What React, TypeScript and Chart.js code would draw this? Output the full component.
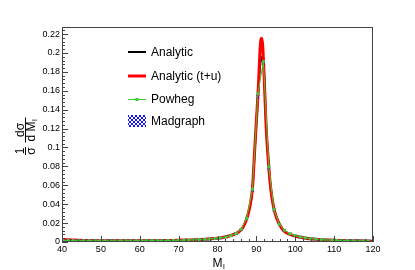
import { useEffect, useRef } from "react";
import { Chart, registerables } from "chart.js";

Chart.register(...registerables);

const FONT = "'Liberation Sans', Arial, Helvetica, sans-serif";

// Analytic curves (x in GeV, y = 1/sigma dsigma/dM)
const curveX = [40, 44, 48, 52, 56, 60, 64, 68, 72, 76, 79, 81, 83, 84.5, 85.5, 86.5, 87.5, 88.3, 89.0, 89.6, 90.0, 90.5, 90.9, 91.15, 91.35, 91.6, 92.0, 92.5, 93.0, 93.5, 94.0, 94.5, 95.2, 95.9, 96.8, 98, 99.5, 101, 103, 106, 110, 115, 120];
const analyticY = [0.0024, 0.0018, 0.0014, 0.0012, 0.0012, 0.0013, 0.0014, 0.0016, 0.002, 0.0027, 0.0036, 0.0046, 0.0063, 0.0085, 0.0108, 0.015, 0.0245, 0.037, 0.056, 0.098, 0.126, 0.158, 0.184, 0.193, 0.1955, 0.193, 0.177, 0.125, 0.091, 0.065, 0.048, 0.036, 0.026, 0.0192, 0.0132, 0.0093, 0.0069, 0.0053, 0.0039, 0.0027, 0.0018, 0.0012, 0.0009];
const analyticTUY = [0.0025, 0.0018, 0.0014, 0.0012, 0.0012, 0.0013, 0.0014, 0.0016, 0.002, 0.0027, 0.0036, 0.0046, 0.0063, 0.0085, 0.0108, 0.015, 0.0245, 0.037, 0.057, 0.1, 0.128, 0.163, 0.2, 0.2135, 0.2155, 0.209, 0.175, 0.123, 0.09, 0.064, 0.047, 0.0355, 0.0255, 0.019, 0.013, 0.0092, 0.0068, 0.0052, 0.0038, 0.0027, 0.0018, 0.0012, 0.0009];

// Generator histograms (bin centres)
const binX = [40.2, 41.6, 42.9, 44.3, 45.6, 47.0, 48.3, 49.7, 51.0, 52.4, 53.7, 55.1, 56.4, 57.8, 59.1, 60.5, 61.8, 63.2, 64.5, 65.9, 67.2, 68.6, 69.9, 71.3, 72.6, 74.0, 75.3, 76.7, 78.0, 79.4, 80.7, 82.1, 83.4, 84.8, 86.1, 87.5, 89.0, 90.4, 91.8, 93.2, 94.5, 95.9, 97.2, 98.6, 99.9, 101.3, 102.6, 104.0, 105.3, 106.7, 108.0, 109.4, 110.7, 112.1, 113.4, 114.8, 116.1, 117.5, 118.8];
const powhegY = [0.0016, 0.0016, 0.0015, 0.0015, 0.0014, 0.0014, 0.0014, 0.0013, 0.0013, 0.0013, 0.0013, 0.0013, 0.0013, 0.0013, 0.0014, 0.0014, 0.0014, 0.0015, 0.0015, 0.0016, 0.0016, 0.0017, 0.0018, 0.0019, 0.0021, 0.0023, 0.0025, 0.0028, 0.0032, 0.0037, 0.0043, 0.0053, 0.0067, 0.009, 0.0134, 0.025, 0.056, 0.157, 0.191, 0.0797, 0.0346, 0.0187, 0.0125, 0.0088, 0.0068, 0.0053, 0.0043, 0.0036, 0.003, 0.0026, 0.0022, 0.002, 0.0018, 0.0016, 0.0015, 0.0014, 0.0013, 0.0012, 0.0011];
const madgraphY = [0.0015, 0.0015, 0.0015, 0.0014, 0.0014, 0.0014, 0.0013, 0.0013, 0.0013, 0.0013, 0.0012, 0.0013, 0.0013, 0.0013, 0.0013, 0.0014, 0.0014, 0.0014, 0.0015, 0.0015, 0.0016, 0.0017, 0.0018, 0.0019, 0.002, 0.0022, 0.0025, 0.0028, 0.0031, 0.0036, 0.0042, 0.0052, 0.0066, 0.0088, 0.0131, 0.0246, 0.0545, 0.1535, 0.1895, 0.0785, 0.034, 0.0183, 0.0123, 0.0087, 0.0067, 0.0052, 0.0042, 0.0035, 0.003, 0.0025, 0.0022, 0.0019, 0.0017, 0.0016, 0.0015, 0.0014, 0.0013, 0.0012, 0.0011];

const seriesNames = ["Analytic", "Analytic (t+u)", "Powheg", "Madgraph"];
const xTickValues = [40, 50, 60, 70, 80, 90, 100, 110, 120];
const yTickValues = [0, 0.02, 0.04, 0.06, 0.08, 0.1, 0.12, 0.14, 0.16, 0.18, 0.2, 0.22];
const xTitle = "M";
const xTitleSub = "l";

const X_MIN = 40;
const X_MAX = 120;
const Y_MIN = 0;
const Y_MAX = 0.2275;

const GREEN = "#3fcc33";
const BLUE = "#1010ff";

function toXY(xs: number[], ys: number[]) {
  return xs.map((x, i) => ({ x, y: ys[i] }));
}

function makeHatch(ctx: CanvasRenderingContext2D) {
  const c = document.createElement("canvas");
  c.width = 4;
  c.height = 4;
  const p = c.getContext("2d")!;
  p.fillStyle = "#ffffff";
  p.fillRect(0, 0, 4, 4);
  p.fillStyle = BLUE;
  const px = [
    [0, 0], [1, 1], [2, 2], [3, 3],
    [3, 0], [2, 1], [1, 2], [0, 3],
  ];
  px.forEach(([a, b]) => p.fillRect(a, b, 1, 1));
  return ctx.createPattern(c, "repeat");
}

const rootPlugin = {
  id: "rootDecor",
  afterDraw(chart: any) {
    const ctx: CanvasRenderingContext2D = chart.ctx;
    const { left, right, top, bottom } = chart.chartArea;
    const xs = chart.scales.x;
    const ys = chart.scales.y;
    ctx.save();
    // frame
    ctx.strokeStyle = "#444";
    ctx.lineWidth = 1;
    ctx.strokeRect(left + 0.5, top + 0.5, right - left - 1, bottom - top - 1);
    // ticks
    ctx.beginPath();
    for (let k = 0; k <= 40; k++) {
      const v = X_MIN + k * 2;
      const px = Math.round(xs.getPixelForValue(v)) + 0.5;
      const len = k % 5 === 0 ? 6 : 3;
      ctx.moveTo(px, bottom);
      ctx.lineTo(px, bottom - len);
    }
    for (let k = 0; k <= 56; k++) {
      const v = k * 0.004;
      if (v > Y_MAX) break;
      const py = Math.round(ys.getPixelForValue(v)) + 0.5;
      const len = k % 5 === 0 ? 6 : 3;
      ctx.moveTo(left, py);
      ctx.lineTo(left + len, py);
    }
    ctx.stroke();

    // legend
    const lx0 = 128;
    const lx1 = 146;
    const tx = 151;
    const rows = [52, 76, 99, 121];
    ctx.font = `12px ${FONT}`;
    ctx.textBaseline = "middle";
    ctx.textAlign = "left";
    ctx.fillStyle = "#000";
    // Analytic
    ctx.strokeStyle = "#000";
    ctx.lineWidth = 2;
    ctx.beginPath();
    ctx.moveTo(lx0, rows[0]);
    ctx.lineTo(lx1, rows[0]);
    ctx.stroke();
    // Analytic (t+u)
    ctx.strokeStyle = "#ff0000";
    ctx.lineWidth = 3;
    ctx.beginPath();
    ctx.moveTo(lx0, rows[1]);
    ctx.lineTo(lx1, rows[1]);
    ctx.stroke();
    // Powheg
    ctx.strokeStyle = GREEN;
    ctx.lineWidth = 1;
    ctx.beginPath();
    ctx.moveTo(lx0, rows[2] + 0.5);
    ctx.lineTo(lx1, rows[2] + 0.5);
    ctx.stroke();
    ctx.fillStyle = GREEN;
    ctx.fillRect((lx0 + lx1) / 2 - 1.5, rows[2] - 1, 3, 3);
    // Madgraph
    const pat = makeHatch(ctx);
    if (pat) ctx.fillStyle = pat;
    ctx.fillRect(lx0, rows[3] - 6, lx1 - lx0, 12);
    ctx.fillStyle = "#000";
    seriesNames.forEach((n, i) => ctx.fillText(n, tx, rows[i] + 1));

    // x title
    ctx.font = `12px ${FONT}`;
    ctx.textBaseline = "alphabetic";
    const mW = ctx.measureText(xTitle).width;
    const xc = (left + right) / 2;
    ctx.fillText(xTitle, xc - mW / 2, 267);
    ctx.font = `8px ${FONT}`;
    ctx.fillText(xTitleSub, xc + mW / 2 + 0.5, 269);

    // y title: (1/sigma) (dsigma / d M_l), rotated
    ctx.translate(26, 139);
    ctx.rotate(-Math.PI / 2);
    ctx.font = `12px ${FONT}`;
    ctx.textAlign = "center";
    ctx.textBaseline = "alphabetic";
    ctx.strokeStyle = "#000";
    ctx.lineWidth = 1;
    // fraction 1
    const f1 = -12;
    ctx.fillText("1", f1, -2);
    ctx.fillText("σ", f1, 9);
    ctx.beginPath();
    ctx.moveTo(f1 - 4, -0.5);
    ctx.lineTo(f1 + 4, -0.5);
    ctx.stroke();
    // fraction 2
    const f2 = 9;
    ctx.fillText("dσ", f2, -2);
    ctx.textAlign = "left";
    const dW = ctx.measureText("d M").width;
    const start = f2 - (dW + 3) / 2;
    ctx.fillText("d M", start, 9);
    ctx.font = `8px ${FONT}`;
    ctx.fillText("l", start + dW + 0.5, 11);
    ctx.beginPath();
    ctx.moveTo(start - 1, -0.5);
    ctx.lineTo(start + dW + 4, -0.5);
    ctx.stroke();
    ctx.restore();
  },
};

export default function App() {
  const ref = useRef<HTMLCanvasElement | null>(null);
  useEffect(() => {
    if (!ref.current) return;
    const chart = new Chart(ref.current, {
      type: "line",
      data: {
        datasets: [
          {
            label: seriesNames[2],
            data: toXY(binX, powhegY),
            borderColor: GREEN,
            backgroundColor: GREEN,
            borderWidth: 1,
            pointStyle: "rect",
            pointRadius: 2,
            pointBorderWidth: 0,
            tension: 0,
            order: 0,
          },
          {
            label: seriesNames[3],
            data: toXY(binX, madgraphY),
            showLine: false,
            borderColor: BLUE,
            backgroundColor: BLUE,
            pointStyle: "crossRot",
            pointRadius: 2,
            pointBorderWidth: 1,
            order: 1,
          },
          {
            label: seriesNames[1],
            data: toXY(curveX, analyticTUY),
            borderColor: "#ff0000",
            borderWidth: 3,
            pointRadius: 0,
            cubicInterpolationMode: "monotone",
            order: 2,
          },
          {
            label: seriesNames[0],
            data: toXY(curveX, analyticY),
            borderColor: "#000000",
            borderWidth: 2,
            pointRadius: 0,
            cubicInterpolationMode: "monotone",
            order: 3,
          },
        ],
      },
      options: {
        responsive: false,
        animation: false,
        devicePixelRatio: 1,
        layout: { padding: { top: 27, right: 42, left: 0, bottom: 0 } },
        plugins: { legend: { display: false }, tooltip: { enabled: false }, title: { display: false } },
        scales: {
          x: {
            type: "linear",
            min: X_MIN,
            max: X_MAX,
            grid: { display: false, drawTicks: false },
            border: { display: false },
            afterFit: (s: any) => {
              s.height = 28;
            },
            afterBuildTicks: (s: any) => {
              s.ticks = xTickValues.map((v) => ({ value: v }));
            },
            ticks: {
              autoSkip: false,
              maxRotation: 0,
              padding: 2,
              color: "#000",
              font: { family: FONT, size: 9 },
              callback: (v: any) => String(v),
            },
          },
          y: {
            type: "linear",
            min: Y_MIN,
            max: Y_MAX,
            grid: { display: false, drawTicks: false },
            border: { display: false },
            afterFit: (s: any) => {
              s.width = 62;
            },
            afterBuildTicks: (s: any) => {
              s.ticks = yTickValues.map((v) => ({ value: v }));
            },
            ticks: {
              autoSkip: false,
              padding: 2,
              color: "#000",
              font: { family: FONT, size: 9 },
              callback: (v: any) => String(Math.round(Number(v) * 100) / 100),
            },
          },
        },
      },
      plugins: [rootPlugin],
    });
    return () => chart.destroy();
  }, []);
  return (
    <div style={{ position: "fixed", left: 0, top: 0, width: 415, height: 270, background: "#fff" }}>
      <canvas ref={ref} width={415} height={270} style={{ display: "block" }} />
    </div>
  );
}
